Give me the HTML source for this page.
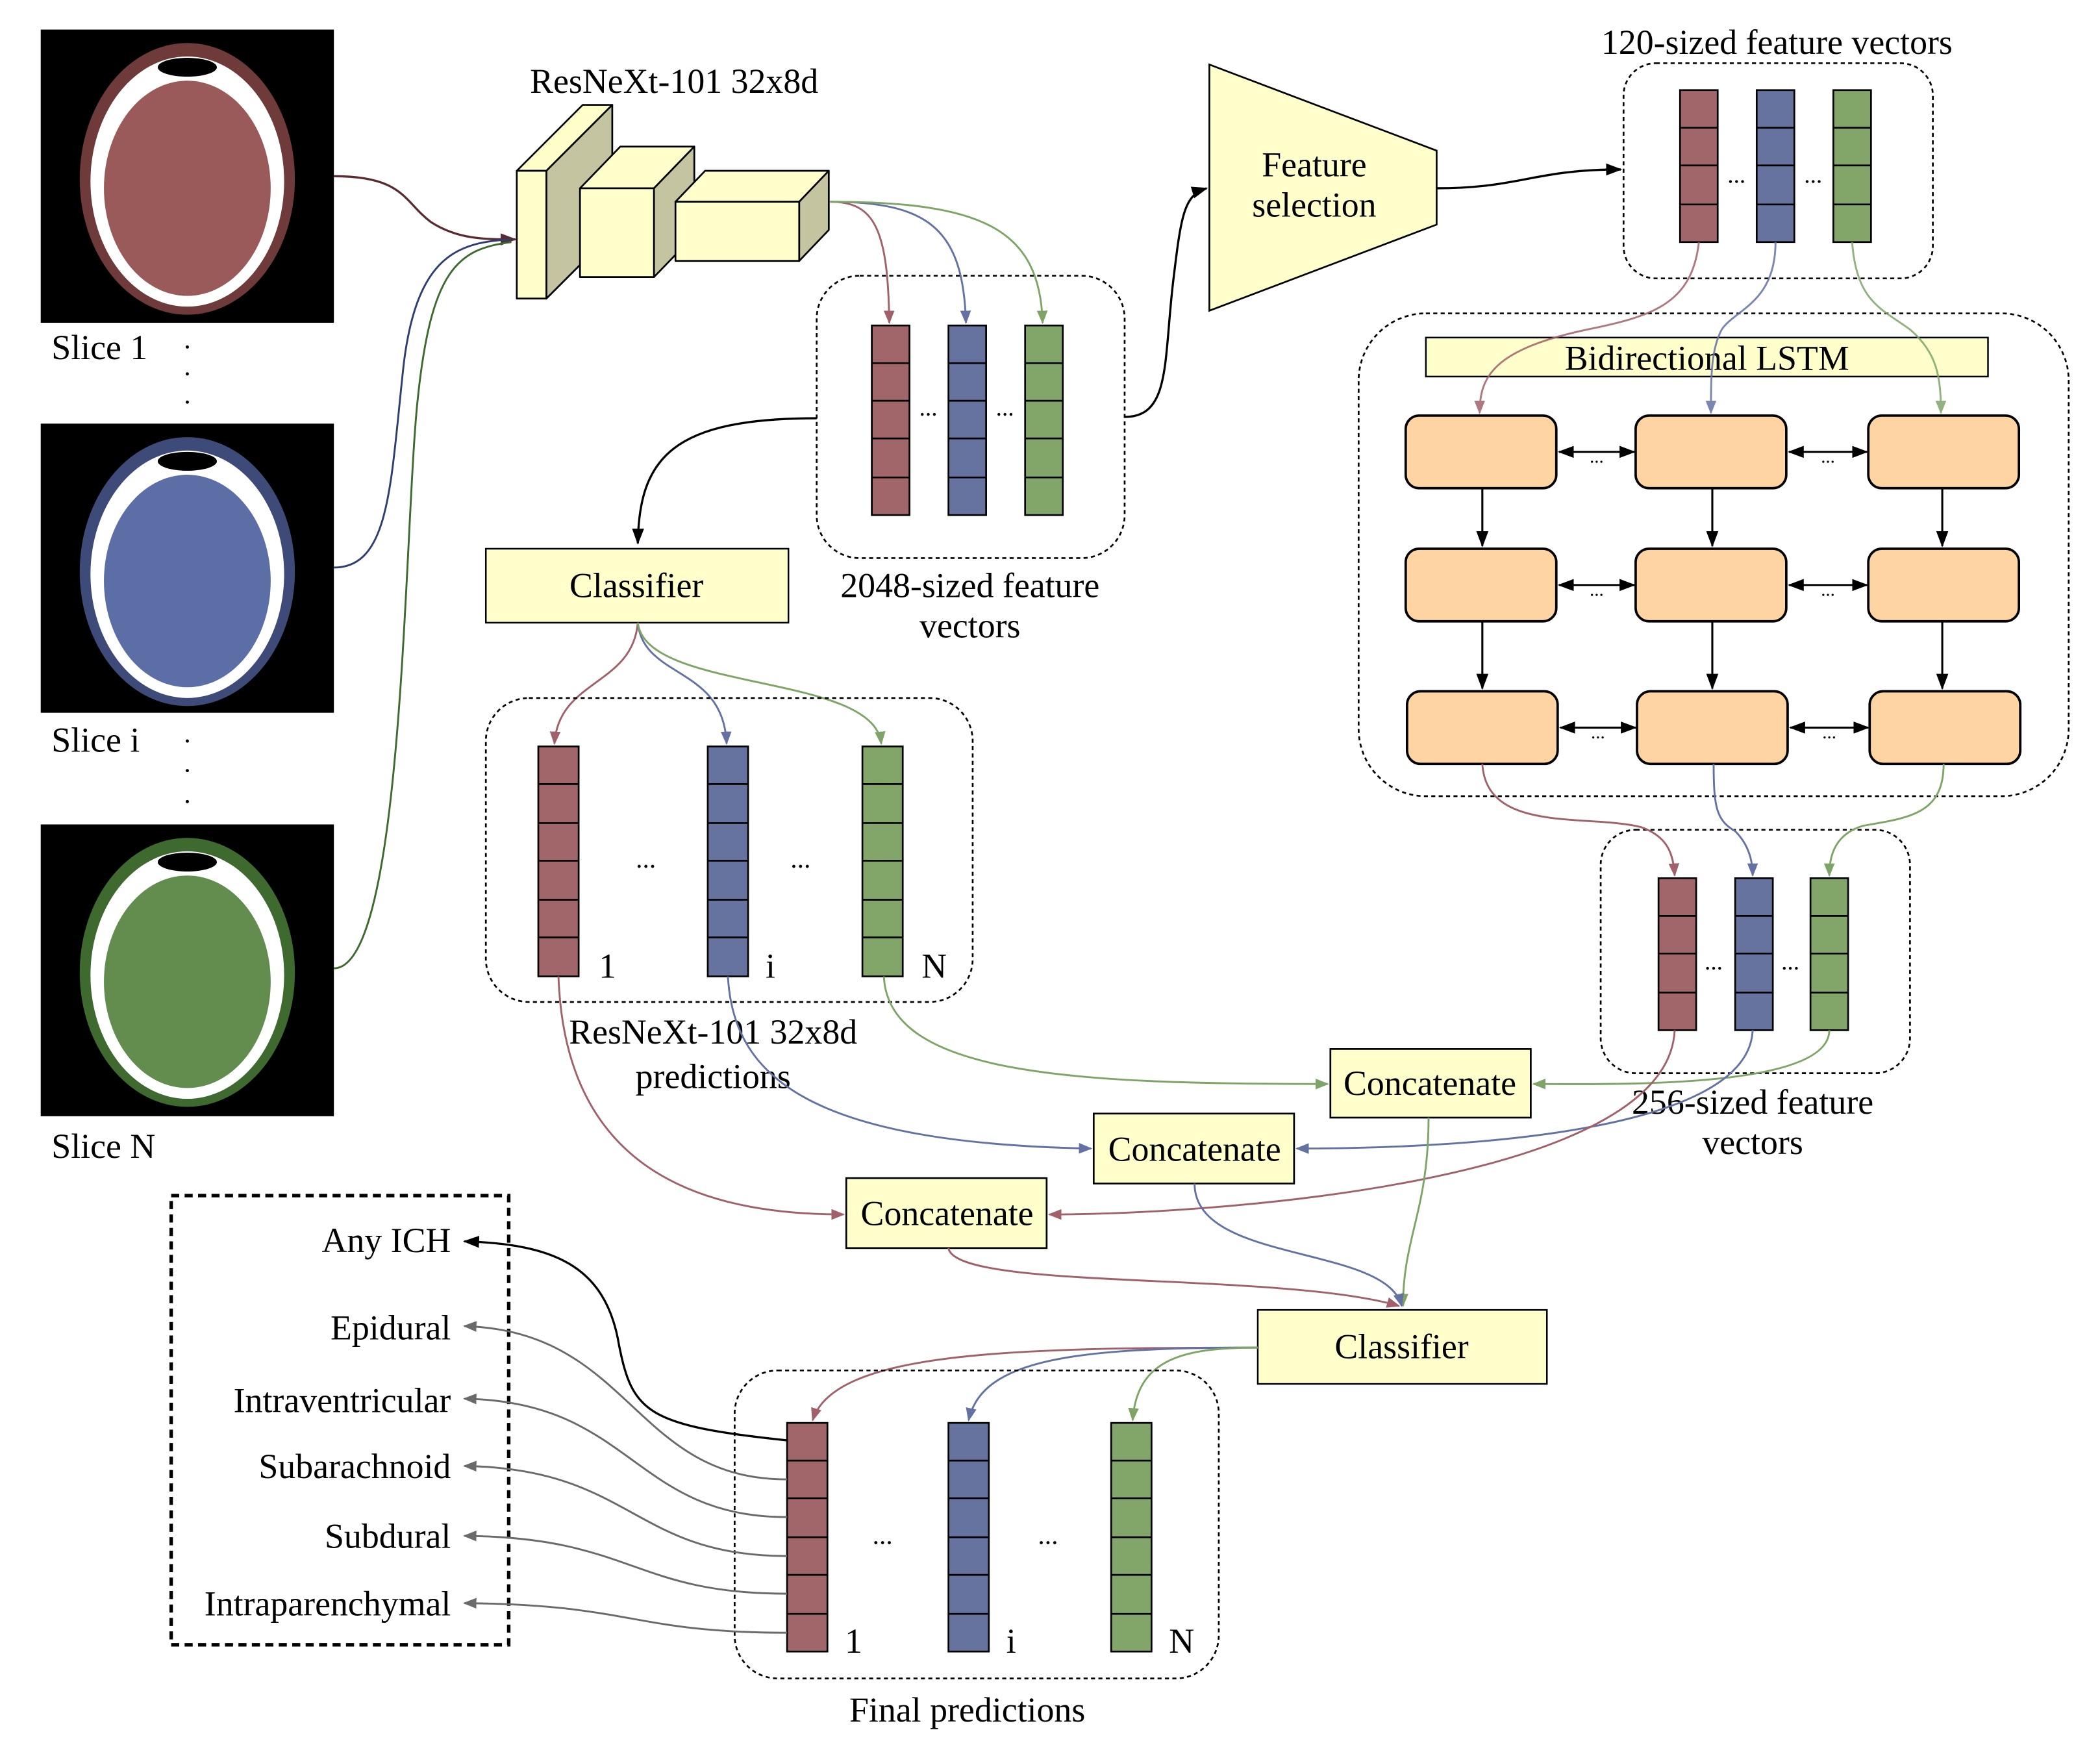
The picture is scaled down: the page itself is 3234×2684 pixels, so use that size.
<!DOCTYPE html>
<html><head><meta charset="utf-8"><style>html,body{margin:0;padding:0;background:#fff}svg{display:block}</style></head>
<body>
<svg width="3234" height="2684" viewBox="0 0 1561 1296" xmlns="http://www.w3.org/2000/svg" font-family="Liberation Serif, serif">
<defs>
<marker id="aR" markerWidth="10" markerHeight="8" refX="9" refY="4" orient="auto" markerUnits="userSpaceOnUse"><path d="M0,0L10,4L0,8z" fill="#a0616a"/></marker>
<marker id="aB" markerWidth="10" markerHeight="8" refX="9" refY="4" orient="auto" markerUnits="userSpaceOnUse"><path d="M0,0L10,4L0,8z" fill="#6372a3"/></marker>
<marker id="aG" markerWidth="10" markerHeight="8" refX="9" refY="4" orient="auto" markerUnits="userSpaceOnUse"><path d="M0,0L10,4L0,8z" fill="#7ea468"/></marker>
<marker id="aK" markerWidth="12" markerHeight="9" refX="11" refY="4.5" orient="auto" markerUnits="userSpaceOnUse"><path d="M0,0L12,4.5L0,9z" fill="#000"/></marker>
<marker id="aS" markerWidth="12" markerHeight="9" refX="1" refY="4.5" orient="auto" markerUnits="userSpaceOnUse"><path d="M12,0L0,4.5L12,9z" fill="#000"/></marker>
<marker id="aY" markerWidth="10" markerHeight="8" refX="9" refY="4" orient="auto" markerUnits="userSpaceOnUse"><path d="M0,0L10,4L0,8z" fill="#6a6a6a"/></marker>
<marker id="aDR" markerWidth="12" markerHeight="9" refX="11" refY="4.5" orient="auto" markerUnits="userSpaceOnUse"><path d="M0,0L12,4.5L0,9z" fill="#5a2a30"/></marker>
</defs>

<!-- brain images -->
<g>
<rect x="30" y="22" width="218" height="218" fill="#000"/>
<ellipse cx="139" cy="133" rx="80" ry="101" fill="#6e3a3a"/>
<ellipse cx="139" cy="135" rx="72" ry="93" fill="#fff"/>
<ellipse cx="139" cy="140" rx="62" ry="80" fill="#9a5a5a"/>
<ellipse cx="139" cy="50" rx="22" ry="7" fill="#000"/>
</g>
<g>
<rect x="30" y="315" width="218" height="215" fill="#000"/>
<ellipse cx="139" cy="425" rx="80" ry="100" fill="#3e4a78"/>
<ellipse cx="139" cy="427" rx="72" ry="92" fill="#fff"/>
<ellipse cx="139" cy="432" rx="62" ry="79" fill="#5b6ea5"/>
<ellipse cx="139" cy="343" rx="22" ry="7" fill="#000"/>
</g>
<g>
<rect x="30" y="613" width="218" height="217" fill="#000"/>
<ellipse cx="139" cy="723" rx="80" ry="100" fill="#3e6a30"/>
<ellipse cx="139" cy="725" rx="72" ry="92" fill="#fff"/>
<ellipse cx="139" cy="730" rx="62" ry="79" fill="#628d4e"/>
<ellipse cx="139" cy="641" rx="22" ry="7" fill="#000"/>
</g>
<g font-size="26">
<text x="38" y="267">Slice 1</text>
<text x="38" y="559">Slice i</text>
<text x="38" y="861">Slice N</text>
</g>
<g fill="#000">
<circle cx="139" cy="258" r="1.2"/><circle cx="139" cy="278" r="1.2"/><circle cx="139" cy="299" r="1.2"/>
<circle cx="139" cy="551" r="1.2"/><circle cx="139" cy="573" r="1.2"/><circle cx="139" cy="596" r="1.2"/>
</g>

<!-- input curves -->
<path d="M248,131 C300,131 300,150 320,165 C340,178 360,178 383,178" fill="none" stroke="#5a2a30" stroke-width="1.6" marker-end="url(#aDR)"/>
<path d="M248,422 C290,422 290,360 300,270 C310,190 340,180 380,178" fill="none" stroke="#2e3e70" stroke-width="1.4"/>
<path d="M248,720 C300,720 300,400 310,300 C320,200 340,185 380,180" fill="none" stroke="#3e6a30" stroke-width="1.4"/>

<!-- ResNeXt blocks -->
<text x="501" y="69" font-size="26" text-anchor="middle">ResNeXt-101 32x8d</text>
<g stroke="#000" stroke-width="1.3" stroke-linejoin="round">
<polygon points="384,127 433,78 455,78 406,127" fill="#ffffcc"/>
<polygon points="406,127 455,78 455,173 406,222" fill="#c4c4a0"/>
<rect x="384" y="127" width="22" height="95" fill="#ffffcc"/>
<polygon points="431,140 461,109 516,109 486,140" fill="#ffffcc"/>
<polygon points="486,140 516,109 516,175 486,206" fill="#c4c4a0"/>
<rect x="431" y="140" width="55" height="66" fill="#ffffcc"/>
<polygon points="502,150 524,127 616,127 594,150" fill="#ffffcc"/>
<polygon points="594,150 616,127 616,171 594,194" fill="#c4c4a0"/>
<rect x="502" y="150" width="92" height="44" fill="#ffffcc"/>
</g>

<!-- 2048 container -->
<rect x="607" y="205" width="229" height="210" rx="32" fill="none" stroke="#000" stroke-width="1.3" stroke-dasharray="3,2.5"/>
<path d="M617,150 C650,150 660,170 661,240" fill="none" stroke="#a0616a" stroke-width="1.4" marker-end="url(#aR)"/>
<path d="M617,150 C690,150 716,170 718,240" fill="none" stroke="#6372a3" stroke-width="1.4" marker-end="url(#aB)"/>
<path d="M617,150 C730,150 773,170 775,240" fill="none" stroke="#7ea468" stroke-width="1.4" marker-end="url(#aG)"/>
<g stroke="#000" stroke-width="1.3">
<rect x="648" y="242" width="28" height="141" fill="#a0666a"/>
<rect x="705" y="242" width="28" height="141" fill="#66739f"/>
<rect x="762" y="242" width="28" height="141" fill="#82a56a"/>
<path d="M648,270H676M648,298H676M648,326H676M648,355H676M705,270H733M705,298H733M705,326H733M705,355H733M762,270H790M762,298H790M762,326H790M762,355H790"/>
</g>
<text x="690" y="309" font-size="18" text-anchor="middle">...</text>
<text x="747" y="309" font-size="18" text-anchor="middle">...</text>
<text x="721" y="444" font-size="26" text-anchor="middle">2048-sized feature</text>
<text x="721" y="474" font-size="26" text-anchor="middle">vectors</text>

<path d="M836,310 C870,310 865,270 872,210 C878,160 880,145 897,140" fill="none" stroke="#000" stroke-width="1.6" marker-end="url(#aK)"/>
<path d="M607,311 C500,311 475,340 474,404" fill="none" stroke="#000" stroke-width="1.6" marker-end="url(#aK)"/>

<!-- Feature selection -->
<polygon points="899,48 1068,112 1068,167 899,231" fill="#ffffcc" stroke="#000" stroke-width="1.3"/>
<text x="977" y="131" font-size="26" text-anchor="middle">Feature</text>
<text x="977" y="161" font-size="26" text-anchor="middle">selection</text>
<path d="M1068,140 C1130,140 1140,126 1205,126" fill="none" stroke="#000" stroke-width="1.6" marker-end="url(#aK)"/>

<!-- 120 container -->
<text x="1321" y="40" font-size="26" text-anchor="middle">120-sized feature vectors</text>
<rect x="1207" y="47" width="230" height="160" rx="24" fill="none" stroke="#000" stroke-width="1.3" stroke-dasharray="3,2.5"/>
<g stroke="#000" stroke-width="1.3">
<rect x="1249" y="67" width="28" height="113" fill="#a0666a"/>
<rect x="1306" y="67" width="28" height="113" fill="#66739f"/>
<rect x="1363" y="67" width="28" height="113" fill="#82a56a"/>
<path d="M1249,95H1277M1249,123H1277M1249,152H1277M1306,95H1334M1306,123H1334M1306,152H1334M1363,95H1391M1363,123H1391M1363,152H1391"/>
</g>
<text x="1291" y="136" font-size="18" text-anchor="middle">...</text>
<text x="1348" y="136" font-size="18" text-anchor="middle">...</text>

<!-- LSTM container -->
<rect x="1010" y="233" width="528" height="359" rx="50" fill="none" stroke="#000" stroke-width="1.3" stroke-dasharray="3,2.5"/>
<rect x="1060" y="251" width="418" height="29" fill="#ffffcc" stroke="#000" stroke-width="1.2"/>
<text x="1269" y="275" font-size="26" text-anchor="middle">Bidirectional LSTM</text>
<path d="M1263,180 C1258,225 1230,235 1180,245 C1110,260 1100,280 1100,307" fill="none" stroke="#a0616a" stroke-width="1.4" marker-end="url(#aR)" opacity="0.85"/>
<path d="M1320,180 C1320,225 1290,230 1280,245 C1272,260 1272,280 1272,307" fill="none" stroke="#6372a3" stroke-width="1.4" marker-end="url(#aB)" opacity="0.85"/>
<path d="M1377,180 C1380,225 1400,230 1420,245 C1440,262 1443,280 1443,307" fill="none" stroke="#7ea468" stroke-width="1.4" marker-end="url(#aG)" opacity="0.85"/>
<g fill="#fdd4a2" stroke="#000" stroke-width="1.8">
<rect x="1045" y="309" width="112" height="54" rx="10"/>
<rect x="1216" y="309" width="112" height="54" rx="10"/>
<rect x="1389" y="309" width="112" height="54" rx="10"/>
<rect x="1045" y="408" width="112" height="54" rx="10"/>
<rect x="1216" y="408" width="112" height="54" rx="10"/>
<rect x="1389" y="408" width="112" height="54" rx="10"/>
<rect x="1046" y="514" width="112" height="54" rx="10"/>
<rect x="1217" y="514" width="112" height="54" rx="10"/>
<rect x="1390" y="514" width="112" height="54" rx="10"/>
</g>
<g stroke="#000" stroke-width="1.5" marker-end="url(#aK)">
<path d="M1102,363V406"/><path d="M1273,363V406"/><path d="M1444,363V406"/>
<path d="M1102,462V512"/><path d="M1273,462V512"/><path d="M1444,462V512"/>
</g>
<g stroke="#000" stroke-width="1.5" marker-start="url(#aS)" marker-end="url(#aK)">
<path d="M1159,336H1215"/><path d="M1330,336H1388"/>
<path d="M1159,435H1215"/><path d="M1330,435H1388"/>
<path d="M1160,541H1216"/><path d="M1331,541H1389"/>
</g>
<g font-size="14" text-anchor="middle">
<text x="1187" y="344">...</text><text x="1359" y="344">...</text>
<text x="1187" y="443">...</text><text x="1359" y="443">...</text>
<text x="1188" y="549">...</text><text x="1360" y="549">...</text>
</g>

<!-- 256 container -->
<rect x="1190" y="617" width="230" height="181" rx="26" fill="none" stroke="#000" stroke-width="1.3" stroke-dasharray="3,2.5"/>
<path d="M1102,568 C1105,620 1180,605 1220,615 C1240,622 1244,635 1245,651" fill="none" stroke="#a0616a" stroke-width="1.4" marker-end="url(#aR)"/>
<path d="M1274,568 C1274,600 1276,610 1290,618 C1300,628 1303,640 1303,651" fill="none" stroke="#6372a3" stroke-width="1.4" marker-end="url(#aB)"/>
<path d="M1445,568 C1445,605 1420,608 1385,614 C1365,620 1360,635 1360,651" fill="none" stroke="#7ea468" stroke-width="1.4" marker-end="url(#aG)"/>
<g stroke="#000" stroke-width="1.3">
<rect x="1233" y="653" width="28" height="113" fill="#a0666a"/>
<rect x="1290" y="653" width="28" height="113" fill="#66739f"/>
<rect x="1346" y="653" width="28" height="113" fill="#82a56a"/>
<path d="M1233,681H1261M1233,709H1261M1233,738H1261M1290,681H1318M1290,709H1318M1290,738H1318M1346,681H1374M1346,709H1374M1346,738H1374"/>
</g>
<text x="1274" y="721" font-size="18" text-anchor="middle">...</text>
<text x="1331" y="721" font-size="18" text-anchor="middle">...</text>
<text x="1303" y="828" font-size="26" text-anchor="middle">256-sized feature</text>
<text x="1303" y="858" font-size="26" text-anchor="middle">vectors</text>

<!-- Classifier 1 -->
<rect x="361" y="408" width="225" height="55" fill="#ffffcc" stroke="#000" stroke-width="1.2"/>
<text x="473" y="444" font-size="26" text-anchor="middle">Classifier</text>
<path d="M474,463 C470,510 415,505 412,553" fill="none" stroke="#a0616a" stroke-width="1.4" marker-end="url(#aR)"/>
<path d="M474,463 C478,505 538,495 540,553" fill="none" stroke="#6372a3" stroke-width="1.4" marker-end="url(#aB)"/>
<path d="M474,463 C480,515 650,500 655,553" fill="none" stroke="#7ea468" stroke-width="1.4" marker-end="url(#aG)"/>

<!-- predictions container -->
<rect x="361" y="519" width="362" height="226" rx="32" fill="none" stroke="#000" stroke-width="1.3" stroke-dasharray="3,2.5"/>
<g stroke="#000" stroke-width="1.3">
<rect x="400" y="555" width="30" height="171" fill="#a0666a"/>
<rect x="526" y="555" width="30" height="171" fill="#66739f"/>
<rect x="641" y="555" width="30" height="171" fill="#82a56a"/>
<path d="M400,583H430M400,612H430M400,640H430M400,669H430M400,697H430M526,583H556M526,612H556M526,640H556M526,669H556M526,697H556M641,583H671M641,612H671M641,640H671M641,669H671M641,697H671"/>
</g>
<text x="480" y="645" font-size="20" text-anchor="middle">...</text>
<text x="595" y="645" font-size="20" text-anchor="middle">...</text>
<g font-size="26"><text x="445" y="727">1</text><text x="569" y="727">i</text><text x="685" y="727">N</text></g>
<text x="530" y="776" font-size="26" text-anchor="middle">ResNeXt-101 32x8d</text>
<text x="530" y="809" font-size="26" text-anchor="middle">predictions</text>

<!-- Concatenate boxes -->
<g fill="#ffffcc" stroke="#000" stroke-width="1.3">
<rect x="989" y="780" width="149" height="51"/>
<rect x="813" y="828" width="149" height="52"/>
<rect x="629" y="876" width="149" height="52"/>
</g>
<g font-size="26" text-anchor="middle">
<text x="1063" y="814">Concatenate</text>
<text x="888" y="863">Concatenate</text>
<text x="704" y="911">Concatenate</text>
</g>
<path d="M657,726 C660,800 800,806 987,806" fill="none" stroke="#7ea468" stroke-width="1.4" marker-end="url(#aG)"/>
<path d="M541,726 C545,800 600,850 811,854" fill="none" stroke="#6372a3" stroke-width="1.4" marker-end="url(#aB)"/>
<path d="M415,726 C420,870 520,903 627,903" fill="none" stroke="#a0616a" stroke-width="1.4" marker-end="url(#aR)"/>
<path d="M1360,766 C1360,810 1200,806 1140,806" fill="none" stroke="#7ea468" stroke-width="1.4" marker-end="url(#aG)"/>
<path d="M1303,766 C1300,840 1100,854 964,854" fill="none" stroke="#6372a3" stroke-width="1.4" marker-end="url(#aB)"/>
<path d="M1245,766 C1240,880 900,903 780,903" fill="none" stroke="#a0616a" stroke-width="1.4" marker-end="url(#aR)"/>

<!-- to classifier 2 -->
<path d="M1062,831 C1062,900 1043,920 1043,971" fill="none" stroke="#7ea468" stroke-width="1.4" marker-end="url(#aG)"/>
<path d="M888,880 C888,940 1030,925 1042,971" fill="none" stroke="#6372a3" stroke-width="1.4" marker-end="url(#aB)"/>
<path d="M705,928 C710,960 950,945 1040,971" fill="none" stroke="#a0616a" stroke-width="1.4" marker-end="url(#aR)"/>
<rect x="935" y="974" width="215" height="55" fill="#ffffcc" stroke="#000" stroke-width="1.2"/>
<text x="1042" y="1010" font-size="26" text-anchor="middle">Classifier</text>
<path d="M935,1002 C750,1002 620,1005 604,1056" fill="none" stroke="#a0616a" stroke-width="1.4" marker-end="url(#aR)"/>
<path d="M935,1002 C800,1002 730,1010 720,1056" fill="none" stroke="#6372a3" stroke-width="1.4" marker-end="url(#aB)"/>
<path d="M935,1002 C880,1002 845,1010 842,1056" fill="none" stroke="#7ea468" stroke-width="1.4" marker-end="url(#aG)"/>

<!-- final container -->
<rect x="546" y="1019" width="360" height="229" rx="32" fill="none" stroke="#000" stroke-width="1.3" stroke-dasharray="3,2.5"/>
<g stroke="#000" stroke-width="1.3">
<rect x="585" y="1058" width="30" height="170" fill="#a0666a"/>
<rect x="705" y="1058" width="30" height="170" fill="#66739f"/>
<rect x="826" y="1058" width="30" height="170" fill="#82a56a"/>
<path d="M585,1086H615M585,1114H615M585,1143H615M585,1171H615M585,1200H615M705,1086H735M705,1114H735M705,1143H735M705,1171H735M705,1200H735M826,1086H856M826,1114H856M826,1143H856M826,1171H856M826,1200H856"/>
</g>
<text x="656" y="1148" font-size="20" text-anchor="middle">...</text>
<text x="779" y="1148" font-size="20" text-anchor="middle">...</text>
<g font-size="26"><text x="628" y="1229">1</text><text x="748" y="1229">i</text><text x="869" y="1229">N</text></g>
<text x="719" y="1280" font-size="26" text-anchor="middle">Final predictions</text>

<!-- output labels -->
<rect x="127" y="889" width="251" height="334" fill="none" stroke="#000" stroke-width="2.6" stroke-dasharray="6,4"/>
<g font-size="26" text-anchor="end">
<text x="335" y="931">Any ICH</text>
<text x="335" y="996">Epidural</text>
<text x="335" y="1050">Intraventricular</text>
<text x="335" y="1099">Subarachnoid</text>
<text x="335" y="1151">Subdural</text>
<text x="335" y="1201">Intraparenchymal</text>
</g>
<path d="M585,1071 C480,1060 470,1050 460,1000 C450,940 410,925 345,923" fill="none" stroke="#000" stroke-width="1.6" marker-end="url(#aK)"/>
<g fill="none" stroke="#6a6a6a" stroke-width="1.4" marker-end="url(#aY)">
<path d="M585,1100 C470,1100 470,990 345,986"/>
<path d="M585,1128 C470,1128 470,1042 345,1040"/>
<path d="M585,1157 C470,1157 470,1092 345,1090"/>
<path d="M585,1185 C470,1185 470,1143 345,1142"/>
<path d="M585,1214 C470,1214 470,1193 345,1192"/>
</g>
</svg>
</body></html>
